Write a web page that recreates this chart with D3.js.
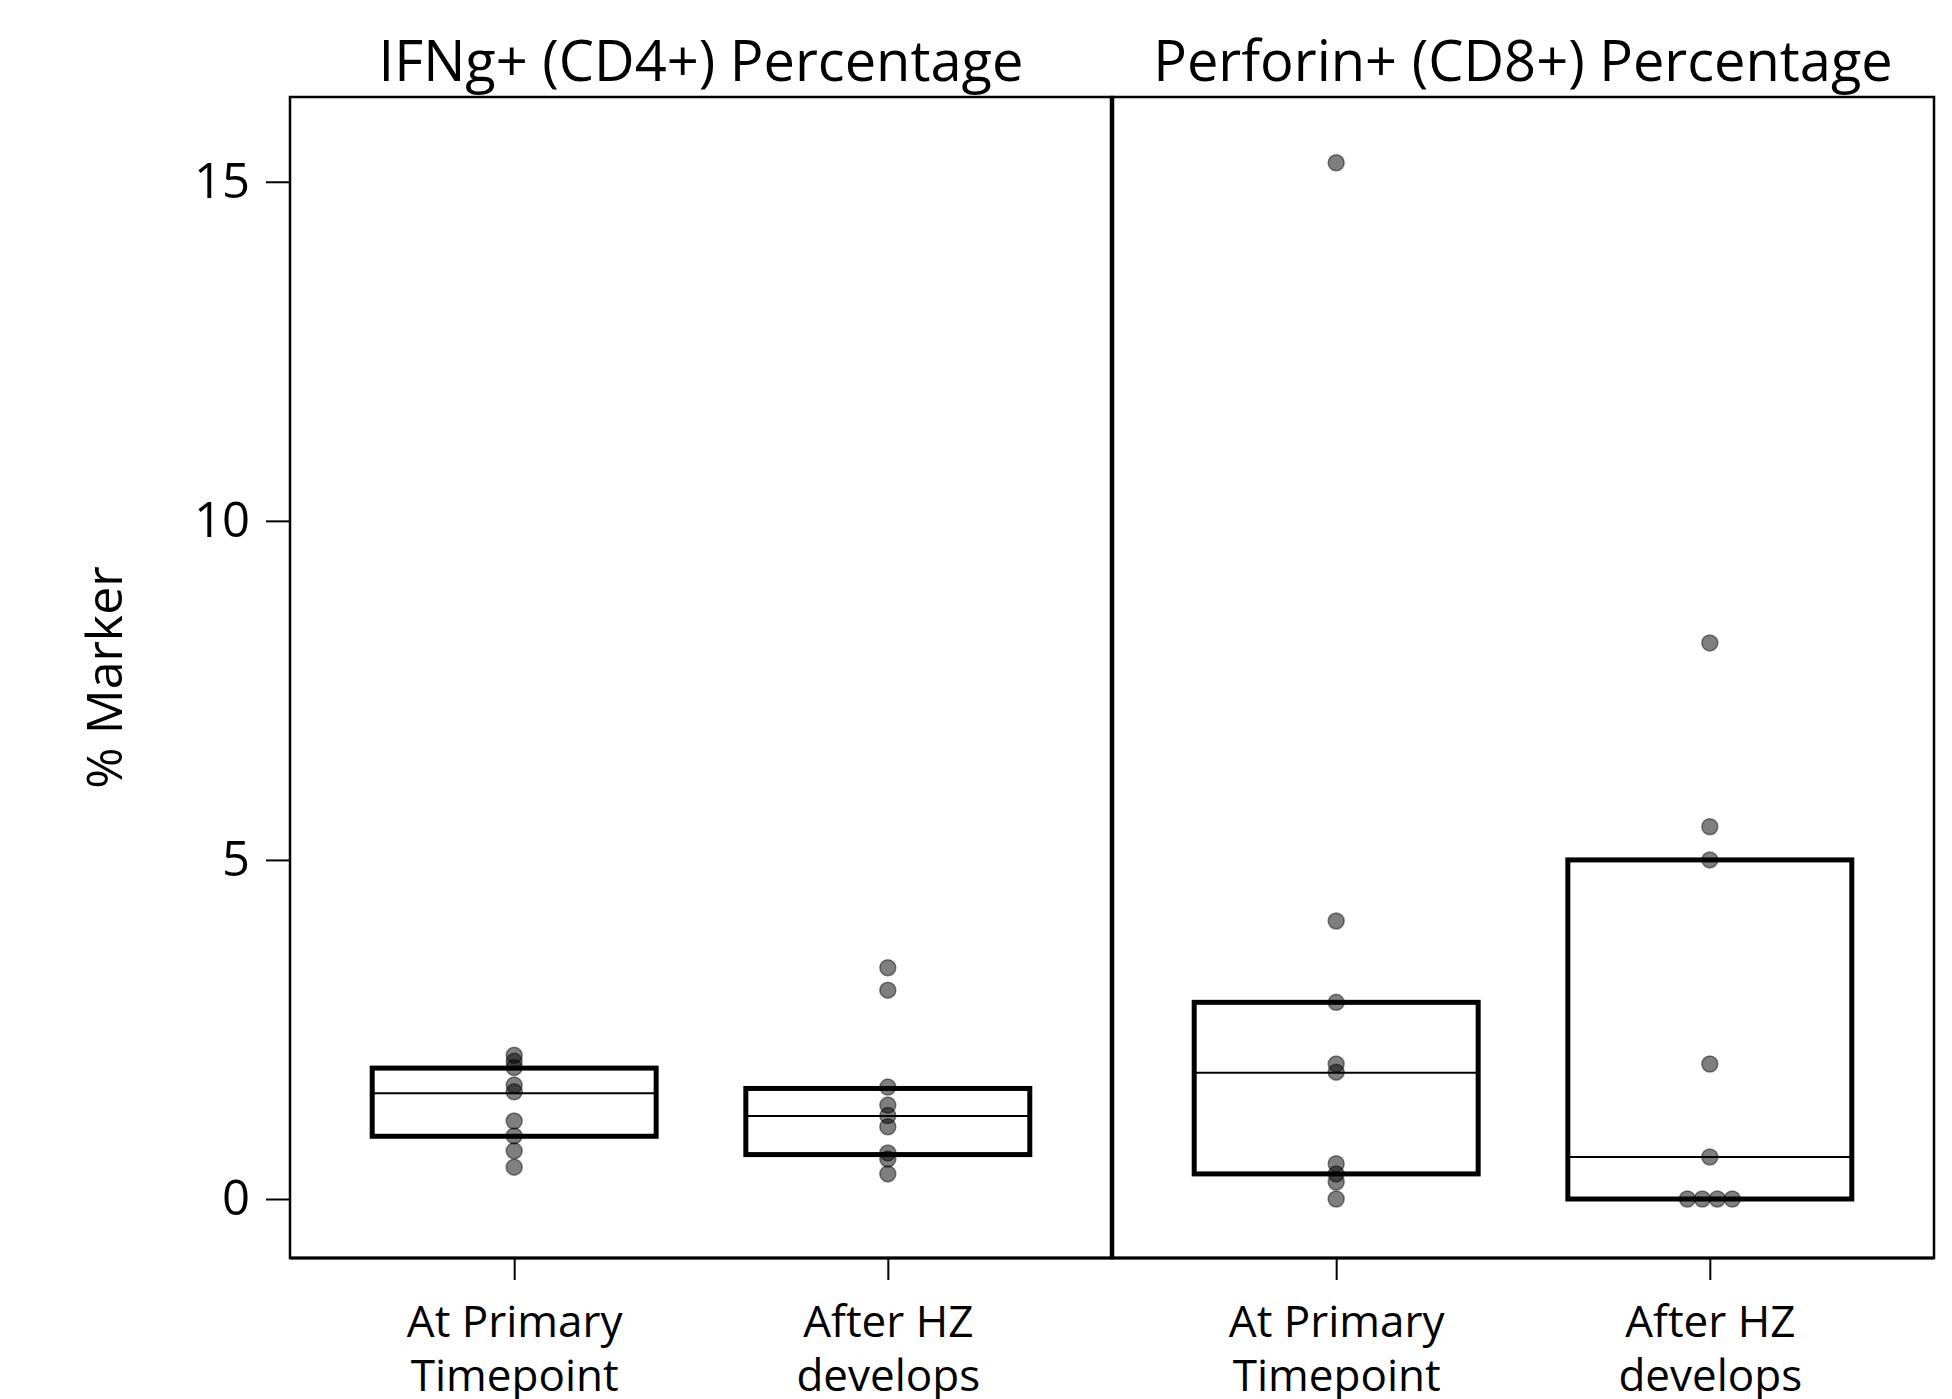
<!DOCTYPE html>
<html>
<head>
<meta charset="utf-8">
<script src="https://cdn.jsdelivr.net/npm/d3@7"></script>
<style>
  body { margin: 0; background: #fff; }
  text { font-family: "Open Sans", sans-serif; fill: #000; }
</style>
</head>
<body>
<div id="chart"></div>
<script>
const width = 1952;
const height = 1399;

// panels and categories
const panels = ['IFNg+ (CD4+) Percentage', 'Perforin+ (CD8+) Percentage'];
const groups = ['At Primary|Timepoint', 'After HZ|develops'];

// individual values
const ifngPrimary = [2.12, 2.03, 1.94, 1.68, 1.58, 1.15, 0.93, 0.71, 0.47];
const ifngAfter = [3.41, 3.08, 1.65, 1.385, 1.23, 1.065, 0.68, 0.59, 0.37];
const perfPrimary = [15.28, 4.10, 2.90, 1.99, 1.87, 0.52, 0.37, 0.25, 0];
const perfAfter = [8.20, 5.49, 5.0, 1.99, 0.62, 0, 0, 0, 0];

// box stats: [q1, median, q3] per panel / group
const ifngBoxes = [[0.925, 1.56, 1.93], [0.655, 1.225, 1.63]];
const perfBoxes = [[0.37, 1.86, 2.90], [0, 0.62, 5.0]];

const yTicks = [0, 5, 10, 15];

const panelValues = [[ifngPrimary, ifngAfter], [perfPrimary, perfAfter]];
const panelBoxes = [ifngBoxes, perfBoxes];

const margin = {left: 290, right: 18, top: 97, bottom: 140};
const plotW = width - margin.left - margin.right;
const panelW = plotW / panels.length;

const svg = d3.select('#chart').append('svg')
  .attr('width', width)
  .attr('height', height);

const y = d3.scaleLinear()
  .domain([-0.87, 16.25])
  .range([height - margin.bottom - 1, margin.top]);

const panelX = d3.scaleBand()
  .domain(panels)
  .range([margin.left, width - margin.right]);

const x = d3.scalePoint()
  .domain(groups)
  .range([0, panelW])
  .padding(0.6);

const boxW = x.step() * 0.76;

// y axis
const yAxis = svg.append('g')
  .attr('transform', `translate(${margin.left},0)`)
  .call(d3.axisLeft(y).tickValues(yTicks).tickSize(24).tickPadding(16));
yAxis.select('.domain').remove();
yAxis.selectAll('line').attr('stroke', '#000').attr('stroke-width', 2);
yAxis.selectAll('text').style('font-size', '49px').attr('fill', '#000');

svg.append('text')
  .attr('transform', `translate(122,${(y.range()[0] + y.range()[1]) / 2}) rotate(-90)`)
  .attr('text-anchor', 'middle')
  .style('font-size', '50px')
  .text('% Marker');

panels.forEach((title, pi) => {
  const g = svg.append('g').attr('transform', `translate(${panelX(title)},0)`);

  // title
  g.append('text')
    .attr('x', panelW / 2)
    .attr('y', 81)
    .attr('text-anchor', 'middle')
    .style('font-size', '56px')
    .text(title);

  // x axis
  const xAxis = g.append('g')
    .attr('transform', `translate(0,${y.range()[0]})`)
    .call(d3.axisBottom(x).tickSize(22).tickFormat(''));
  xAxis.select('.domain').remove();
  xAxis.selectAll('line').attr('stroke', '#000').attr('stroke-width', 2);
  xAxis.selectAll('.tick').append('text')
    .attr('text-anchor', 'middle')
    .style('font-size', '44px')
    .selectAll('tspan')
    .data(d => d.split('|'))
    .join('tspan')
      .attr('x', 0)
      .attr('y', (d, i) => 79 + i * 54)
      .text(d => d);

  // boxes
  groups.forEach((grp, gi) => {
    const [q1, med, q3] = panelBoxes[pi][gi];
    const cx = x(grp);
    g.append('rect')
      .attr('x', cx - boxW / 2)
      .attr('y', y(q3))
      .attr('width', boxW)
      .attr('height', y(q1) - y(q3))
      .attr('fill', 'none')
      .attr('stroke', '#000')
      .attr('stroke-width', 5);
    g.append('line')
      .attr('x1', cx - boxW / 2)
      .attr('x2', cx + boxW / 2)
      .attr('y1', y(med))
      .attr('y2', y(med))
      .attr('stroke', '#000')
      .attr('stroke-width', 2);

    // points; identical values get dodged side by side
    const counts = d3.rollup(panelValues[pi][gi], v => v.length, d => d);
    const seen = new Map();
    const pts = panelValues[pi][gi].map(v => {
      const n = counts.get(v);
      const k = seen.get(v) || 0;
      seen.set(v, k + 1);
      return {v, off: (k - (n - 1) / 2) * 15};
    });
    g.append('g').selectAll('circle')
      .data(pts)
      .join('circle')
        .attr('cx', d => cx + d.off)
        .attr('cy', d => y(d.v))
        .attr('r', 8)
        .attr('fill', '#000')
        .attr('fill-opacity', 0.5)
        .attr('stroke', '#000')
        .attr('stroke-opacity', 0.45)
        .attr('stroke-width', 1.5);
  });

  // panel frame
  g.append('rect')
    .attr('x', 0)
    .attr('y', y.range()[1])
    .attr('width', panelW)
    .attr('height', y.range()[0] - y.range()[1])
    .attr('fill', 'none')
    .attr('stroke', '#000')
    .attr('stroke-width', 2.5);
});

// thicker divider between panels
svg.append('line')
  .attr('x1', panelX(panels[1]))
  .attr('x2', panelX(panels[1]))
  .attr('y1', y.range()[1])
  .attr('y2', y.range()[0])
  .attr('stroke', '#000')
  .attr('stroke-width', 4.5);

// heavier bottom edge
svg.append('line')
  .attr('x1', margin.left)
  .attr('x2', width - margin.right)
  .attr('y1', y.range()[0])
  .attr('y2', y.range()[0])
  .attr('stroke', '#000')
  .attr('stroke-width', 3);
</script>
</body>
</html>
